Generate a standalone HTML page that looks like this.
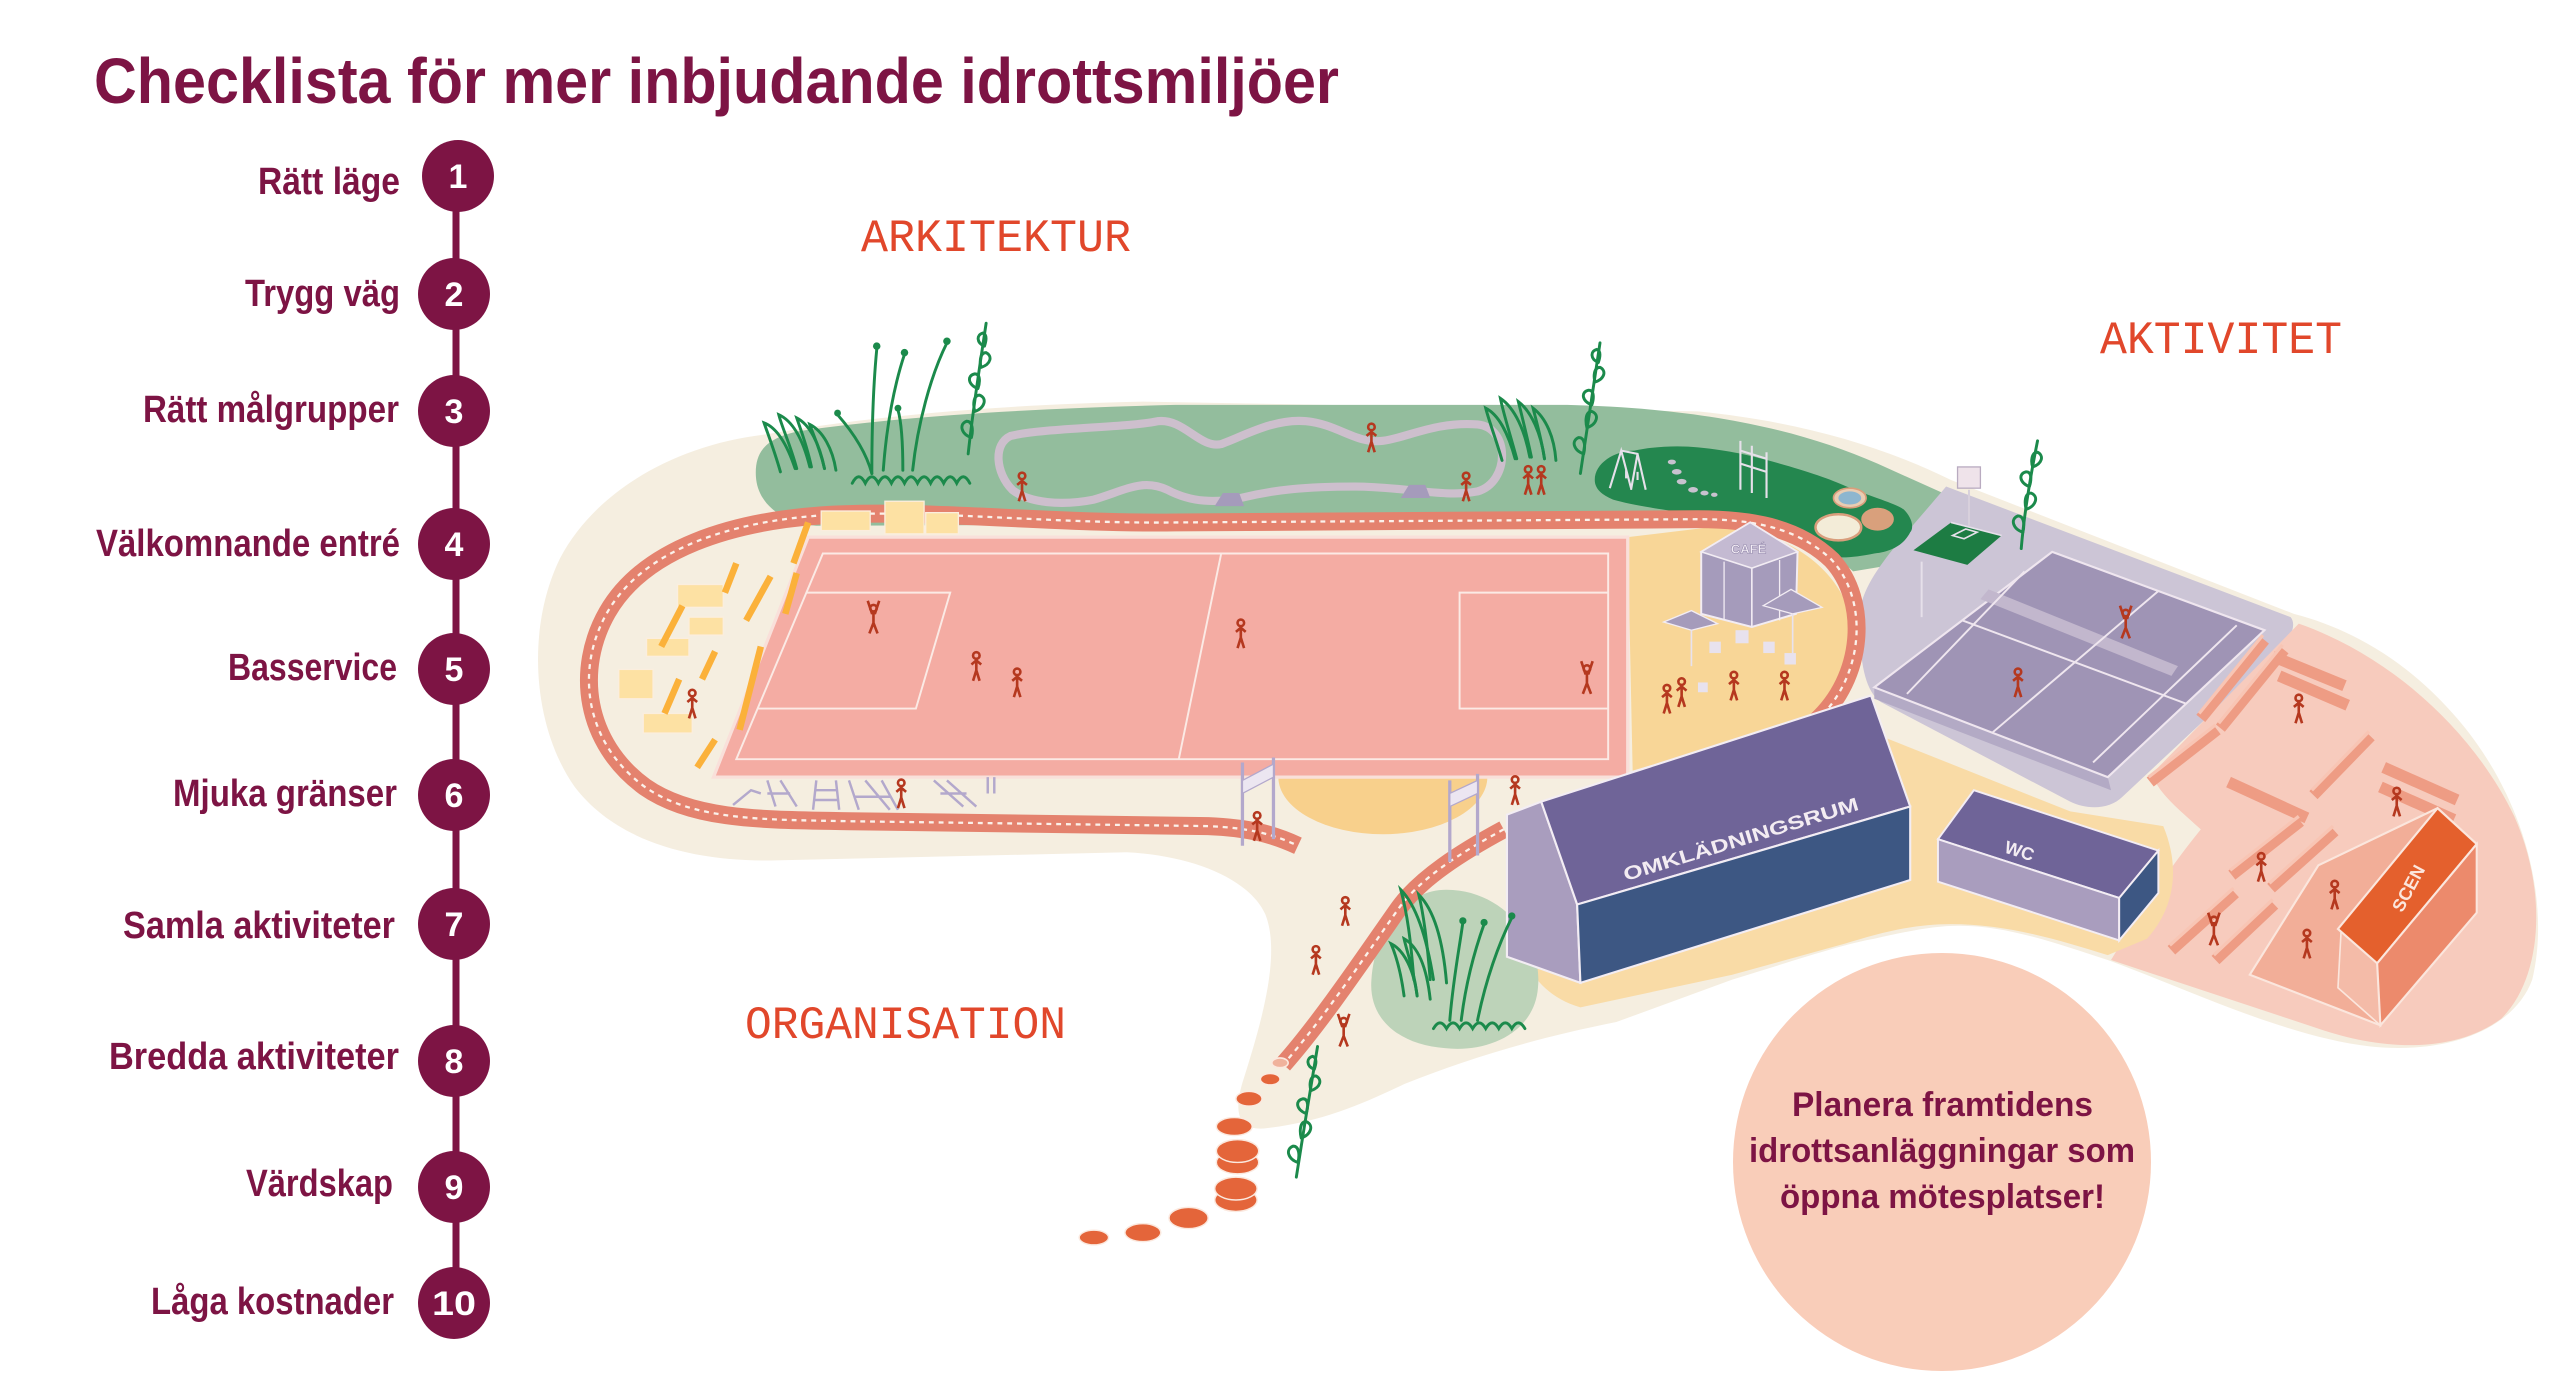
<!DOCTYPE html>
<html><head><meta charset="utf-8"><style>
html,body{margin:0;padding:0;background:#fff;}
svg{display:block;}
</style></head><body>
<svg width="2560" height="1390" viewBox="0 0 2560 1390" xmlns="http://www.w3.org/2000/svg">
<defs>
<g id="p"><circle cx="0" cy="-10.5" r="2"/><path d="M0,-8.5 L0,-1.5 M-3,-5 L0,-7.5 L3,-5 M0,-1.5 L-2,5 M0,-1.5 L2,5"/></g>
<g id="pj"><circle cx="0" cy="-10.5" r="2"/><path d="M0,-8.5 L0,-1.5 M-3.5,-15 L-1,-7.5 L1,-7.5 L3.5,-15 M0,-1.5 L-2.5,5 M0,-1.5 L2.5,5"/></g>
</defs>
<rect width="2560" height="1390" fill="#ffffff"/>

<g transform="scale(1.63265)">
<!-- cream base -->
<path d="M470,266 C415,272 365,300 343,342 C322,385 326,445 352,482 C378,516 425,528 475,527 L690,522 C730,524 765,538 775,560 C785,585 772,628 762,660 C754,684 760,693 776,691 C810,687 835,676 860,664 C900,648 940,636 990,626 L1061,600 C1100,588 1130,578 1148,575 C1170,570 1185,567 1200,567 C1230,567 1260,578 1291,588 C1340,606 1400,635 1452,641 C1500,646 1540,630 1551,600 C1562,555 1548,490 1505,440 C1475,405 1440,385 1405,376 L1195,294 C1150,272 1100,258 1040,252 L700,246 C600,248 520,257 470,266 Z" fill="#f5eee0"/>

<!-- green band -->
<path d="M463,292 C462,276 470,268 490,264 C560,254 640,250 720,248 L960,248 C1040,250 1100,262 1150,284 L1190,302 C1180,318 1172,330 1165,345 L1135,350 C1115,330 1085,322 1050,320 L500,322 C478,320 464,308 463,292 Z" fill="#93bd9d"/>

<!-- gray area -->
<path d="M1192,298 L1403,378 C1408,384 1400,396 1392,402 L1300,488 C1292,496 1278,496 1268,491 L1152,430 C1140,422 1138,395 1140,370 C1145,350 1165,330 1192,298 Z" fill="#ccc5d6"/>

<!-- dark green playground -->
<path d="M977,296 C975,285 988,276 1001,276 C1015,273 1030,273 1040,274 C1060,276 1072,279 1083,282 C1105,288 1120,293 1131,298 C1148,305 1160,308 1166,312 C1172,318 1172,324 1170,326 C1166,334 1158,338 1148,339 C1138,341 1130,342 1122,341 C1110,338 1102,334 1096,331 C1082,325 1072,322 1062,320 C1045,316 1030,314 1018,312 C1005,310 995,308 988,306 C981,303 978,300 977,296 Z" fill="#24874f"/>
<g stroke="#e6e0ea" stroke-width="1.3" fill="none">
<path d="M986,299 L993,276 L999,299 M993,276 L1003,278 L1008,300 M1003,278 L999,300 M996,288 L996,293 M1003,289 L1003,294"/>
<path d="M1066,300 L1066,270 M1073,302 L1073,273 M1082,305 L1082,277 M1066,276 L1082,281 M1066,284 L1082,289"/>
</g>
<g fill="#c8c2cf"><ellipse cx="1024" cy="283" rx="2.5" ry="1.5"/><ellipse cx="1027" cy="289" rx="3" ry="1.7"/><ellipse cx="1030" cy="295" rx="3" ry="1.7"/><ellipse cx="1037" cy="300" rx="3" ry="1.7"/><ellipse cx="1044" cy="302" rx="2.5" ry="1.5"/><ellipse cx="1050" cy="303" rx="2" ry="1.3"/></g>
<ellipse cx="1133" cy="305" rx="10" ry="6" fill="#e9cdb2" stroke="#d99e7c" stroke-width="1"/>
<ellipse cx="1133" cy="305" rx="7" ry="4" fill="#8db6cf"/>
<ellipse cx="1126" cy="323" rx="14" ry="8" fill="#f3ecd8" stroke="#d99e7c" stroke-width="1.5"/>
<ellipse cx="1150" cy="318" rx="10" ry="7" fill="#d9a07c"/>
<polygon points="1172,337 1195,320 1226,328 1205,346" fill="#1d7c43"/>
<polyline points="1195,320 1226,328" stroke="#e6e0ea" stroke-width="1" fill="none"/>
<polygon points="1196,328 1204,324 1211,326 1203,330" fill="none" stroke="#e6e0ea" stroke-width="1"/>
<line x1="1206" y1="300" x2="1206" y2="322" stroke="#d8d0dc" stroke-width="1.2"/>
<rect x="1199" y="286" width="14" height="13" fill="#efe3ea" stroke="#b9abc0" stroke-width="0.8"/>

<!-- pink area -->
<path d="M1408,382 C1465,402 1515,448 1540,500 C1560,545 1558,598 1532,624 C1502,646 1458,643 1420,630 L1293,588 C1310,560 1330,530 1348,508 C1335,496 1322,486 1318,474 Z" fill="#f7cbbd"/>

<!-- yellow lower -->
<path d="M935,500 L1000,478 L1125,440 L1268,497 L1325,506 C1335,530 1333,555 1315,575 L1291,585 C1262,576 1230,566 1195,566 C1170,566 1150,572 1130,578 L1061,597 L968,617 C950,612 940,600 935,590 Z" fill="#f9dba6"/>
<path d="M997,329 L1055,322 C1095,326 1128,348 1135,383 C1140,412 1125,432 1095,444 L1000,472 Z" fill="#f8d697"/>
<path d="M783,476 A64,35 0 0 0 911,476 Z" fill="#f8d08c"/>

<!-- court -->
<polygon points="1148,421 1291,476 1293,484 1148,428" fill="#b3aac5"/>
<polygon points="1257,338 1387,386 1291,476 1148,421" fill="#9f94b5" stroke="#efe6ef" stroke-width="1.3"/>
<polygon points="1218,361 1334,408 1330,414 1213,367" fill="#c2b7cd"/>
<g stroke="#efe6ef" stroke-width="1.2" fill="none">
<line x1="1202" y1="380" x2="1339" y2="431"/>
<line x1="1322" y1="362" x2="1220" y2="449"/>
<line x1="1240" y1="350" x2="1168" y2="425"/>
<line x1="1370" y1="383" x2="1282" y2="467"/>
</g>
<line x1="1177" y1="344" x2="1177" y2="378" stroke="#e6e0ea" stroke-width="1.2"/>

<!-- gray loop path -->
<path d="M619,267 C640,262 690,262 709,258 C725,256 735,275 748,272 C760,268 780,256 800,258 C820,260 830,272 847,270 C862,268 880,258 905,260 C925,262 925,295 905,301 C885,305 860,298 830,298 C800,298 780,300 760,305 C745,308 730,308 715,300 C700,293 690,300 670,306 C650,310 630,308 620,300 C610,290 608,272 619,267 Z" fill="none" stroke="#cdbfcd" stroke-width="5"/>
<polygon points="744,310 749,302 759,302 762,310" fill="#a59bbb"/>
<polygon points="858,305 863,297 873,297 876,305" fill="#a59bbb"/>

<path d="M886,545 C920,545 945,575 942,605 C940,632 912,645 885,642 C858,640 838,625 840,600 C842,570 860,545 886,545 Z" fill="#bdd3b9"/>

<!-- track -->
<path d="M1112,442 C1142,415 1145,368 1122,343 C1100,322 1070,318 1040,318 L720,320 C640,321 560,311 499,316 C450,320 395,335 372,375 C352,410 358,455 395,482 C425,503 470,502 520,503 L740,506 C765,507 780,511 795,518" fill="none" stroke="#e4826e" stroke-width="11"/>
<path d="M1112,442 C1142,415 1145,368 1122,343 C1100,322 1070,318 1040,318 L720,320 C640,321 560,311 499,316 C450,320 395,335 372,375 C352,410 358,455 395,482 C425,503 470,502 520,503 L740,506 C765,507 780,511 795,518" fill="none" stroke="#fbf1ea" stroke-width="1.4" stroke-dasharray="3 3"/>
<path d="M921,508 C895,522 870,538 857,556 C840,580 810,625 786,652" fill="none" stroke="#e4826e" stroke-width="11"/>
<path d="M921,508 C895,522 870,538 857,556 C840,580 810,625 786,652" fill="none" stroke="#fbf1ea" stroke-width="1.4" stroke-dasharray="3 3"/>

<!-- field -->
<polygon points="495,329 997,329 997,476 437,476" fill="#f4aca3" stroke="#f9e0da" stroke-width="2"/>
<g stroke="#fbeae5" stroke-width="1.2" fill="none">
<polygon points="504,339 985,339 985,465 451,465"/>
<line x1="748" y1="339" x2="722" y2="465"/>
<polyline points="494,363 582,363 561,434 464,434"/>
<polyline points="985,363 894,363 894,434 985,434"/>
</g>

<!-- bleachers -->
<g fill="#fde1a3" stroke="#fbeede" stroke-width="0.8">
<rect x="503" y="313" width="30" height="12"/>
<rect x="542" y="307" width="24" height="20"/>
<rect x="567" y="314" width="20" height="13"/>
<rect x="415" y="358" width="28" height="14"/>
<rect x="422" y="378" width="21" height="11"/>
<rect x="396" y="391" width="26" height="11"/>
<rect x="379" y="410" width="21" height="18"/>
<rect x="394" y="437" width="30" height="12"/>
</g>
<g stroke="#fbb13a" stroke-width="4">
<line x1="486" y1="345" x2="495" y2="320"/>
<line x1="444" y1="363" x2="451" y2="345"/>
<line x1="405" y1="396" x2="418" y2="371"/>
<line x1="407" y1="437" x2="416" y2="416"/>
<line x1="430" y1="416" x2="438" y2="399"/>
<line x1="427" y1="470" x2="438" y2="453"/>
<line x1="457" y1="380" x2="472" y2="353"/>
<line x1="453" y1="447" x2="466" y2="396"/>
<line x1="481" y1="376" x2="488" y2="351"/>
</g>

<!-- exercise equipment -->
<g stroke="#b3a8cc" stroke-width="1.5" fill="none">
<path d="M449,493 L460,484 L466,486"/>
<path d="M470,478 L475,494 M478,478 L488,494 M470,486 L484,486"/>
<path d="M500,478 L498,496 M512,478 L514,496 M499,484 L513,484 M499,490 L513,490"/>
<path d="M520,478 L526,496 M530,478 L545,496 M540,478 L550,496 M523,488 L546,488"/>
<path d="M572,478 L590,494 M580,478 L598,494 M576,486 L592,486"/>
<path d="M605,476 L605,486 M609,476 L609,486"/>
</g>

<!-- gates -->
<g stroke="#b3a8cc" stroke-width="2">
<line x1="761" y1="467" x2="761" y2="518"/><line x1="780" y1="464" x2="780" y2="514"/>
<line x1="888" y1="478" x2="888" y2="528"/><line x1="905" y1="474" x2="905" y2="524"/>
</g>
<polygon points="761,478 780,468 780,476 761,486" fill="#ece6f1" stroke="#b3a8cc" stroke-width="0.8"/>
<polygon points="888,486 905,478 905,486 888,494" fill="#ece6f1" stroke="#b3a8cc" stroke-width="0.8"/>

<!-- cafe -->
<polygon points="1042,338 1072,320 1101,338 1100,376 1073,384 1042,376" fill="#a59bbb" stroke="#f2ecf3" stroke-width="1.2"/>
<polygon points="1042,338 1072,320 1101,338 1073,348" fill="#c4bad2" stroke="#f2ecf3" stroke-width="1"/>
<line x1="1073" y1="348" x2="1073" y2="384" stroke="#f2ecf3" stroke-width="1"/>
<line x1="1056" y1="344" x2="1056" y2="380" stroke="#f2ecf3" stroke-width="0.8"/>
<line x1="1090" y1="343" x2="1090" y2="380" stroke="#f2ecf3" stroke-width="0.8"/>
<text x="1071" y="339" font-family="Liberation Sans, sans-serif" font-weight="bold" font-size="8" fill="#f4eef6" text-anchor="middle" stroke="#8d82a6" stroke-width="0.3">CAFÉ</text>
<polygon points="1019,381 1036,374 1052,382 1036,386" fill="#a59bbb" stroke="#f2ecf3" stroke-width="0.8"/>
<polygon points="1080,371 1097,361 1116,372 1098,376" fill="#a59bbb" stroke="#f2ecf3" stroke-width="0.8"/>
<line x1="1036" y1="386" x2="1036" y2="408" stroke="#e8e2ee" stroke-width="1"/>
<line x1="1098" y1="376" x2="1098" y2="400" stroke="#e8e2ee" stroke-width="1"/>
<g fill="#e8e2ee"><rect x="1063" y="386" width="8" height="8"/><rect x="1047" y="393" width="7" height="7"/><rect x="1080" y="393" width="7" height="7"/><rect x="1093" y="400" width="7" height="7"/><rect x="1040" y="418" width="6" height="6"/></g>

<!-- omkladningsrum -->
<polygon points="923,499 944,491 966,554 968,602 923,586" fill="#a99dbe" stroke="#f3edf4" stroke-width="1.3"/>
<polygon points="944,491 1146,426 1170,494 966,554" fill="#6f6498" stroke="#f3edf4" stroke-width="1.3"/>
<polygon points="966,554 1170,494 1170,539 968,602" fill="#3d5783" stroke="#f3edf4" stroke-width="1.3"/>
<text x="1066" y="518" transform="rotate(-17 1066 513)" font-family="Liberation Sans, sans-serif" font-weight="bold" font-size="11.5" fill="#f3ecf2" text-anchor="middle" textLength="150" lengthAdjust="spacingAndGlyphs">OMKLÄDNINGSRUM</text>

<!-- WC -->
<polygon points="1209,484 1322,521 1298,550 1187,514" fill="#6f6498" stroke="#f3edf4" stroke-width="1.2"/>
<polygon points="1187,514 1298,550 1298,576 1187,540" fill="#a99dbe" stroke="#f3edf4" stroke-width="1.2"/>
<polygon points="1298,550 1322,521 1322,547 1298,576" fill="#3d5783" stroke="#f3edf4" stroke-width="1.2"/>
<text x="1237" y="525" transform="rotate(18 1237 521)" font-family="Liberation Sans, sans-serif" font-weight="bold" font-size="11" fill="#f3ecf2" text-anchor="middle">WC</text>

<!-- benches -->
<g stroke="#ee9c84" stroke-width="7">
<line x1="1348" y1="440" x2="1387" y2="392"/>
<line x1="1360" y1="446" x2="1399" y2="398"/>
<line x1="1392" y1="402" x2="1436" y2="420"/>
<line x1="1396" y1="414" x2="1438" y2="432"/>
<line x1="1317" y1="479" x2="1358" y2="447"/>
<line x1="1417" y1="487" x2="1452" y2="451"/>
<line x1="1460" y1="470" x2="1505" y2="490"/>
<line x1="1458" y1="482" x2="1503" y2="502"/>
<line x1="1365" y1="479" x2="1413" y2="501"/>
<line x1="1367" y1="536" x2="1409" y2="503"/>
<line x1="1391" y1="544" x2="1430" y2="509"/>
<line x1="1330" y1="582" x2="1369" y2="547"/>
<line x1="1357" y1="588" x2="1393" y2="554"/>
</g>
<g stroke="#f8c5b4" stroke-width="2">
<line x1="1347" y1="437" x2="1386" y2="389"/>
<line x1="1359" y1="443" x2="1398" y2="395"/>
<line x1="1316" y1="476" x2="1357" y2="444"/>
<line x1="1416" y1="484" x2="1451" y2="448"/>
<line x1="1366" y1="533" x2="1408" y2="500"/>
<line x1="1390" y1="541" x2="1429" y2="506"/>
<line x1="1329" y1="579" x2="1368" y2="544"/>
<line x1="1356" y1="585" x2="1392" y2="551"/>
</g>

<!-- stage -->
<polygon points="1378,597 1420,530 1493,495 1517,517 1458,628" fill="#f2ae98" stroke="#fbe6dd" stroke-width="1.3"/>
<polygon points="1432,605 1434,569 1456,590 1458,628" fill="#f4bba8" stroke="#fbe6dd" stroke-width="1"/>
<polygon points="1432,569 1493,495 1517,517 1456,590" fill="#e4602d" stroke="#fbe6dd" stroke-width="1.3"/>
<polygon points="1456,590 1517,517 1517,559 1458,628" fill="#ec8a6c" stroke="#fbe6dd" stroke-width="1.3"/>
<text x="1475" y="548" transform="rotate(-62 1475 544)" font-family="Liberation Sans, sans-serif" font-weight="bold" font-size="11" fill="#fbe6dd" text-anchor="middle">SCEN</text>

<!-- stepping stones -->
<g fill="#e4653a" stroke="#fbe9df" stroke-width="0.9">
<ellipse cx="670" cy="758" rx="9" ry="4.5"/>
<ellipse cx="700" cy="755" rx="11" ry="5.5"/>
<ellipse cx="728" cy="746" rx="12" ry="6.5"/>
<ellipse cx="757" cy="735" rx="13" ry="7"/>
<ellipse cx="757" cy="728" rx="13" ry="7"/>
<ellipse cx="758" cy="712" rx="13" ry="7"/>
<ellipse cx="758" cy="705" rx="13" ry="7"/>
<ellipse cx="756" cy="690" rx="11" ry="5.5"/>
<ellipse cx="765" cy="673" rx="8" ry="4.5"/>
<ellipse cx="778" cy="661" rx="6" ry="3.5"/>
</g>
<ellipse cx="784" cy="651" rx="5" ry="3" fill="#f0b29c" stroke="#fbe9df" stroke-width="1"/>

<!-- grasses and vines -->
<g fill="none" stroke="#1b8a4b" stroke-width="1.8" stroke-linecap="round">
<path d="M478,289 C474,275 470,265 468,259 C476,262 482,272 487,287"/>
<path d="M488,287 C484,272 479,262 477,254 C486,258 492,270 496,286"/>
<path d="M497,286 C494,272 490,262 488,256 C496,260 502,272 505,287"/>
<path d="M505,287 C502,274 498,266 496,260 C504,264 510,275 512,288"/>
<path d="M534,290 C534,260 535,235 537,214"/>
<path d="M541,288 C543,260 548,235 554,217"/>
<path d="M559,288 C562,260 570,230 580,210"/>
<path d="M553,288 C553,270 552,258 550,251"/>
<path d="M534,290 C530,275 520,262 513,254"/>
<path d="M522,296 q4,-8 8,0 q4,-8 8,0 q4,-8 8,0 q4,-8 8,0 q4,-8 8,0 q4,-8 8,0 q4,-8 8,0 q4,-8 8,0 q4,-8 8,0"/>
<path d="M593,278 C596,250 600,225 604,198"/>
<path d="M595,268 c-6,-2 -8,-8 -3,-10 c4,0 4,6 3,10 M597,252 c6,-2 8,-8 3,-10 c-4,0 -4,6 -3,10 M599,238 c-6,-2 -7,-8 -2,-9 c4,0 3,6 2,9 M601,225 c6,-2 7,-7 3,-9 c-4,0 -4,6 -3,9 M603,212 c-5,-2 -5,-7 -1,-8 c3,1 2,5 1,8"/>
<path d="M920,282 C916,268 912,258 910,250 C918,254 924,266 928,281"/>
<path d="M929,281 C925,266 921,254 919,244 C928,250 934,264 937,280"/>
<path d="M938,280 C935,266 932,254 930,246 C938,252 944,266 946,281"/>
<path d="M946,281 C944,268 941,258 939,250 C947,256 952,268 953,282"/>
<path d="M968,290 C972,262 976,238 980,210"/>
<path d="M970,278 c-6,-2 -8,-8 -3,-10 c4,0 4,6 3,10 M972,262 c6,-2 8,-8 3,-10 c-4,0 -4,6 -3,10 M975,248 c-6,-2 -7,-8 -2,-9 c4,0 3,6 2,9 M977,234 c6,-2 7,-7 3,-9 c-4,0 -4,6 -3,9 M979,222 c-5,-2 -5,-7 -1,-8 c3,1 2,5 1,8"/>
<path d="M1238,336 C1240,312 1244,290 1248,270"/>
<path d="M1239,326 c-6,-2 -8,-8 -3,-10 c4,0 4,6 3,10 M1241,312 c6,-2 8,-8 3,-10 c-4,0 -4,6 -3,10 M1243,298 c-6,-2 -7,-8 -2,-9 c4,0 3,6 2,9 M1245,286 c6,-2 7,-7 3,-9 c-4,0 -4,6 -3,9"/>
<path d="M860,610 C858,595 855,585 852,578 C860,582 866,594 868,610"/>
<path d="M868,610 C866,594 862,584 860,575 C869,580 874,594 876,612"/>
<path d="M866,600 C864,575 862,560 858,545 C868,555 874,575 878,600"/>
<path d="M876,600 C874,575 872,560 869,548 C879,558 884,578 886,602"/>
<path d="M888,625 C890,600 894,580 896,565"/>
<path d="M895,625 C898,600 904,580 909,566"/>
<path d="M905,625 C910,600 918,578 926,562"/>
<path d="M878,630 q4,-7 8,0 q4,-7 8,0 q4,-7 8,0 q4,-7 8,0 q4,-7 8,0 q4,-7 8,0 q4,-7 8,0"/>
<path d="M794,721 C798,695 803,665 807,641"/>
<path d="M795,712 c-6,-2 -8,-8 -3,-10 c4,0 4,6 3,10 M797,697 c6,-2 8,-8 3,-10 c-4,0 -4,6 -3,10 M800,682 c-6,-2 -7,-8 -2,-9 c4,0 3,6 2,9 M803,668 c6,-2 7,-7 3,-9 c-4,0 -4,6 -3,9 M805,655 c-5,-2 -5,-7 -1,-8 c3,1 2,5 1,8"/>
</g>
<g fill="#1b8a4b">
<circle cx="537" cy="212" r="2.3"/><circle cx="554" cy="216" r="2.3"/><circle cx="580" cy="209" r="2.3"/><circle cx="550" cy="250" r="2.1"/><circle cx="513" cy="253" r="2.1"/>
<circle cx="896" cy="564" r="2.2"/><circle cx="909" cy="565" r="2.2"/><circle cx="926" cy="561" r="2.2"/>
</g>

<!-- people -->
<g fill="none" stroke="#b5381f" stroke-width="1.6">
<use href="#pj" x="535" y="383"/>
<use href="#p" x="598" y="412"/>
<use href="#p" x="623" y="422"/>
<use href="#p" x="760" y="392"/>
<use href="#pj" x="972" y="420"/>
<use href="#p" x="424" y="435"/>
<use href="#p" x="552" y="490"/>
<use href="#p" x="770" y="510"/>
<use href="#p" x="928" y="488"/>
<use href="#p" x="824" y="562"/>
<use href="#p" x="806" y="592"/>
<use href="#pj" x="823" y="636"/>
<use href="#p" x="626" y="302"/>
<use href="#p" x="840" y="272"/>
<use href="#p" x="898" y="302"/>
<use href="#p" x="936" y="298"/>
<use href="#p" x="944" y="298"/>
<use href="#p" x="1030" y="428"/>
<use href="#p" x="1021" y="432"/>
<use href="#p" x="1062" y="424"/>
<use href="#p" x="1093" y="424"/>
<use href="#pj" x="1302" y="386"/>
<use href="#p" x="1236" y="422"/>
<use href="#p" x="1408" y="438"/>
<use href="#p" x="1468" y="495"/>
<use href="#p" x="1385" y="535"/>
<use href="#pj" x="1356" y="574"/>
<use href="#p" x="1430" y="552"/>
<use href="#p" x="1413" y="582"/>
</g>
</g>

<!-- Title -->
<text x="94" y="103" font-family="Liberation Sans, sans-serif" font-weight="bold" font-size="64" fill="#7d1444" textLength="1245" lengthAdjust="spacingAndGlyphs">Checklista för mer inbjudande idrottsmiljöer</text>

<!-- checklist -->
<line x1="456" y1="176" x2="456" y2="1303" stroke="#7d1444" stroke-width="7"/>
<g fill="#7d1444">
<circle cx="458" cy="176" r="36"/>
<circle cx="454" cy="294" r="36"/>
<circle cx="454" cy="411" r="36"/>
<circle cx="454" cy="544" r="36"/>
<circle cx="454" cy="669" r="36"/>
<circle cx="454" cy="795" r="36"/>
<circle cx="454" cy="924" r="36"/>
<circle cx="454" cy="1061" r="36"/>
<circle cx="454" cy="1187" r="36"/>
<circle cx="454" cy="1303" r="36"/>
</g>
<g fill="#ffffff" font-family="Liberation Sans, sans-serif" font-weight="bold" font-size="34" text-anchor="middle">
<text x="458" y="188">1</text>
<text x="454" y="306">2</text>
<text x="454" y="423">3</text>
<text x="454" y="556">4</text>
<text x="454" y="681">5</text>
<text x="454" y="807">6</text>
<text x="454" y="936">7</text>
<text x="454" y="1073">8</text>
<text x="454" y="1199">9</text>
<text x="454" y="1315" textLength="44" lengthAdjust="spacingAndGlyphs">10</text>
</g>
<g fill="#7d1444" font-family="Liberation Sans, sans-serif" font-weight="bold" font-size="38">
<text x="258" y="194" textLength="142" lengthAdjust="spacingAndGlyphs">Rätt läge</text>
<text x="245" y="306" textLength="155" lengthAdjust="spacingAndGlyphs">Trygg väg</text>
<text x="143" y="422" textLength="256" lengthAdjust="spacingAndGlyphs">Rätt målgrupper</text>
<text x="96" y="556" textLength="304" lengthAdjust="spacingAndGlyphs">Välkomnande entré</text>
<text x="228" y="680" textLength="169" lengthAdjust="spacingAndGlyphs">Basservice</text>
<text x="173" y="806" textLength="224" lengthAdjust="spacingAndGlyphs">Mjuka gränser</text>
<text x="123" y="938" textLength="272" lengthAdjust="spacingAndGlyphs">Samla aktiviteter</text>
<text x="109" y="1069" textLength="290" lengthAdjust="spacingAndGlyphs">Bredda aktiviteter</text>
<text x="246" y="1196" textLength="147" lengthAdjust="spacingAndGlyphs">Värdskap</text>
<text x="151" y="1314" textLength="243" lengthAdjust="spacingAndGlyphs">Låga kostnader</text>
</g>

<!-- section labels -->
<g fill="#e1472b" font-family="Liberation Mono, monospace" font-size="46">
<text x="861" y="251" textLength="270" lengthAdjust="spacingAndGlyphs">ARKITEKTUR</text>
<text x="2100" y="353" textLength="242" lengthAdjust="spacingAndGlyphs">AKTIVITET</text>
<text x="745" y="1038" textLength="321" lengthAdjust="spacingAndGlyphs">ORGANISATION</text>
</g>

<!-- circle -->
<circle cx="1942" cy="1162" r="209" fill="#f9cdb9"/>
<g fill="#7d1444" font-family="Liberation Sans, sans-serif" font-weight="bold" font-size="34">
<text x="1792" y="1116" textLength="301" lengthAdjust="spacingAndGlyphs">Planera framtidens</text>
<text x="1749" y="1162" textLength="386" lengthAdjust="spacingAndGlyphs">idrottsanläggningar som</text>
<text x="1780" y="1208" textLength="325" lengthAdjust="spacingAndGlyphs">öppna mötesplatser!</text>
</g>
</svg>
</body></html>
